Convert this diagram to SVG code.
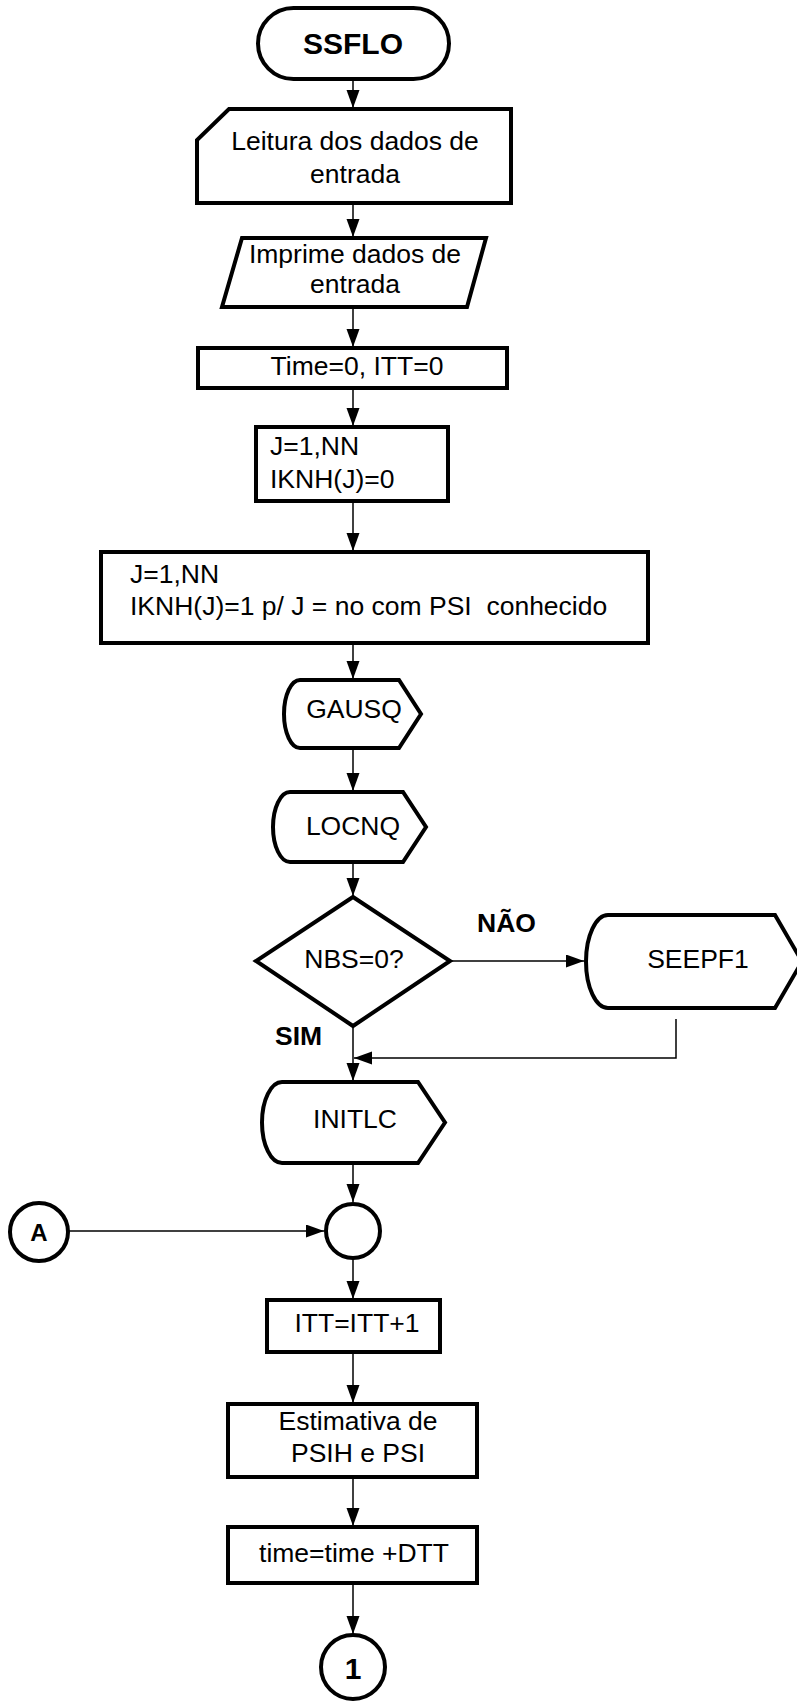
<svg xmlns="http://www.w3.org/2000/svg" width="797" height="1704" viewBox="0 0 797 1704">
<defs>
<style>
.s{fill:#fff;stroke:#000;stroke-width:4;stroke-linejoin:miter}
.t{font-family:"Liberation Sans",Arial,sans-serif;font-size:26.5px;fill:#000}
.c{text-anchor:middle}
.b{font-weight:bold}
.ln{fill:none;stroke:#000;stroke-width:1.5}
</style>
<marker id="ah" markerUnits="userSpaceOnUse" markerWidth="19" markerHeight="14" refX="18" refY="6.5" orient="auto">
<path d="M0,0 L18,6.5 L0,13 Z" fill="#000"/>
</marker>
</defs>
<rect width="797" height="1704" fill="#fff"/>

<g id="connectors">
<line class="ln" x1="353" y1="79" x2="353" y2="108" marker-end="url(#ah)"/>
<line class="ln" x1="353" y1="203" x2="353" y2="237" marker-end="url(#ah)"/>
<line class="ln" x1="353" y1="307" x2="353" y2="347" marker-end="url(#ah)"/>
<line class="ln" x1="353" y1="388" x2="353" y2="426" marker-end="url(#ah)"/>
<line class="ln" x1="353" y1="501" x2="353" y2="551" marker-end="url(#ah)"/>
<line class="ln" x1="353" y1="643" x2="353" y2="679" marker-end="url(#ah)"/>
<line class="ln" x1="353" y1="748" x2="353" y2="791" marker-end="url(#ah)"/>
<line class="ln" x1="353" y1="862" x2="353" y2="896" marker-end="url(#ah)"/>
<line class="ln" x1="450" y1="961" x2="584" y2="961" marker-end="url(#ah)"/>
<line class="ln" x1="353" y1="1026" x2="353" y2="1081" marker-end="url(#ah)"/>
<polyline class="ln" points="676,1019 676,1058 354,1058" marker-end="url(#ah)"/>
<line class="ln" x1="353" y1="1163" x2="353" y2="1202" marker-end="url(#ah)"/>
<line class="ln" x1="69" y1="1231" x2="324" y2="1231" marker-end="url(#ah)"/>
<line class="ln" x1="353" y1="1258" x2="353" y2="1299" marker-end="url(#ah)"/>
<line class="ln" x1="353" y1="1352" x2="353" y2="1403" marker-end="url(#ah)"/>
<line class="ln" x1="353" y1="1477" x2="353" y2="1526" marker-end="url(#ah)"/>
<line class="ln" x1="353" y1="1583" x2="353" y2="1634" marker-end="url(#ah)"/>
</g>

<g id="ssflo">
<rect class="s" x="258" y="8" width="191" height="71" rx="35.5" ry="35.5"/>
<text class="t c b" x="353" y="54" style="font-size:30px">SSFLO</text>
</g>

<g id="leitura">
<path class="s" d="M229,109 H511 V203 H197 V140 Z"/>
<text class="t c" x="355" y="150">Leitura dos dados de</text>
<text class="t c" x="355" y="183">entrada</text>
</g>

<g id="imprime">
<path class="s" d="M242,238 H486 L467,307 H222 Z"/>
<text class="t c" x="355" y="263">Imprime dados de</text>
<text class="t c" x="355" y="293">entrada</text>
</g>

<g id="time0">
<rect class="s" x="198" y="348" width="309" height="40"/>
<text class="t c" x="357" y="375">Time=0, ITT=0</text>
</g>

<g id="jloop1">
<rect class="s" x="256" y="427" width="192" height="74"/>
<text class="t" x="270" y="455">J=1,NN</text>
<text class="t" x="270" y="488">IKNH(J)=0</text>
</g>

<g id="jloop2">
<rect class="s" x="101" y="552" width="547" height="91"/>
<text class="t" x="130" y="583">J=1,NN</text>
<text class="t" x="130" y="615" xml:space="preserve">IKNH(J)=1 p/ J = no com PSI  conhecido</text>
</g>

<g id="gausq">
<path class="s" d="M300,680 H399 L421,714 L399,748 H300 A16,34 0 0 1 300,680 Z"/>
<text class="t c" x="354" y="718">GAUSQ</text>
</g>

<g id="locnq">
<path class="s" d="M290,792 H403 L426,827 L403,862 H290 A17,35 0 0 1 290,792 Z"/>
<text class="t c" x="353" y="835">LOCNQ</text>
</g>

<g id="decision">
<path class="s" d="M353,897 L450,961 L353,1026 L256,961 Z"/>
<text class="t c" x="354" y="968">NBS=0?</text>
<text class="t b" x="477" y="932">NÃO</text>
<text class="t b" x="275" y="1045">SIM</text>
</g>

<g id="seepf1">
<path class="s" d="M608,915 H775 L802,961.5 L775,1008 H608 A22,46.5 0 0 1 608,915 Z"/>
<text class="t c" x="698" y="968">SEEPF1</text>
</g>

<g id="initlc">
<path class="s" d="M282,1082 H418 L445,1122.5 L418,1163 H282 A20,40.5 0 0 1 282,1082 Z"/>
<text class="t c" x="355" y="1128">INITLC</text>
</g>

<g id="connA">
<circle class="s" cx="39" cy="1232" r="29"/>
<text class="t c b" x="39" y="1241" style="font-size:24px">A</text>
</g>

<g id="junction">
<circle class="s" cx="353" cy="1231" r="27"/>
</g>

<g id="itt">
<rect class="s" x="267" y="1300" width="173" height="52"/>
<text class="t c" x="357" y="1332">ITT=ITT+1</text>
</g>

<g id="estimativa">
<rect class="s" x="228" y="1404" width="249" height="73"/>
<text class="t c" x="358" y="1430">Estimativa de</text>
<text class="t c" x="358" y="1462">PSIH e PSI</text>
</g>

<g id="timeinc">
<rect class="s" x="228" y="1527" width="249" height="56"/>
<text class="t c" x="354" y="1562">time=time +DTT</text>
</g>

<g id="conn1">
<circle class="s" cx="353" cy="1667" r="32"/>
<text class="t c b" x="353" y="1679" style="font-size:30px">1</text>
</g>
</svg>
